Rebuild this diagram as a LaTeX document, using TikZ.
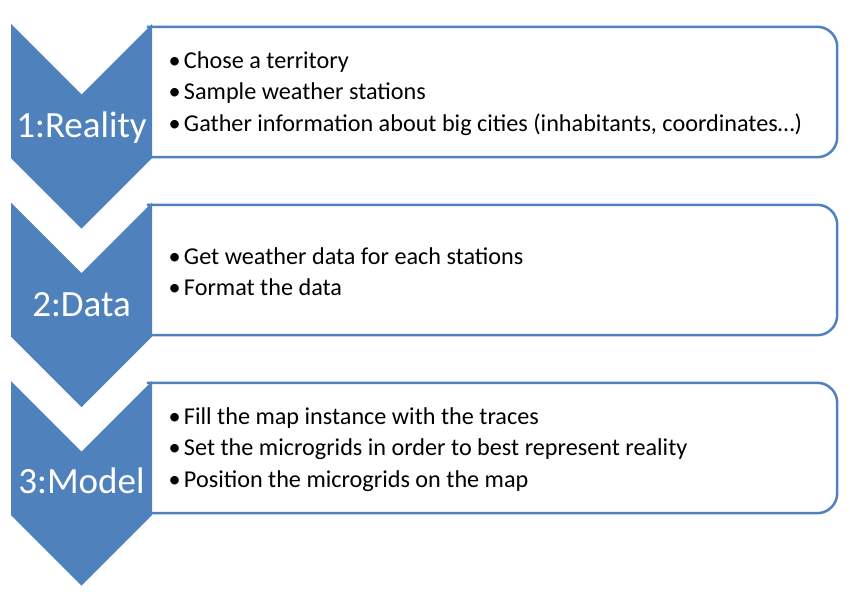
\documentclass[tikz,border=0pt]{standalone}
\usepackage{fontspec}
\setmainfont{Carlito}
\usetikzlibrary{positioning,calc}
\definecolor{stepBlue}{HTML}{4F81BD}

\begin{document}
\begin{tikzpicture}[x=1pt,y=-1pt,every text node part/.style={align=left}]
\tikzset{myFont/.style={font=\fontsize{24.2}{31.5}\selectfont}}
\tikzset{myBox/.style={draw=none,minimum width=690pt,minimum height=130pt,inner sep=0pt}}
\tikzset{myBorder/.style={draw=stepBlue,line width=2.5pt,rounded corners=20pt}}
\tikzset{myList/.style={myFont,anchor=west,inner sep=0pt,xshift=19pt,yshift=-1.5pt}}
\tikzset{myChevron/.style={fill=stepBlue}}
\tikzset{myLabel/.style={text=white,font=\fontsize{37}{40}\selectfont,anchor=base,inner sep=0pt}}
\newcommand{\itm}{\makebox[18pt][l]{\hspace{2.5pt}\textbullet}}

\useasboundingbox (0,0) rectangle (850,591);

% boxes behind the chevrons, open on the left
\node[myBox] (box1) at (492,92) {};
\node[myBox] (box2) at (492,270) {};
\node[myBox] (box3) at (492,448) {};
\draw[myBorder] (box1.north west) -- (box1.north east) -- (box1.south east) -- (box1.south west);
\draw[myBorder] (box2.north west) -- (box2.north east) -- (box2.south east) -- (box2.south west);
\draw[myBorder] (box3.north west) -- (box3.north east) -- (box3.south east) -- (box3.south west);

\node[myList] (list1) at (box1.west) {\itm Chose a territory\\\itm Sample weather stations\\\itm Gather information about big cities (inhabitants, coordinates…)};
\node[myList] (list2) at (box2.west) {\itm Get weather data for each stations\\\itm Format the data};
\node[myList] (list3) at (box3.west) {\itm Fill the map instance with the traces\\\itm Set the microgrids in order to best represent reality\\\itm Position the microgrids on the map};

% chevrons
\fill[myChevron] (11,24) -- (81.5,94.5) -- (152,24) -- (152,158) -- (81.5,228.5) -- (11,158) -- cycle;
\fill[myChevron] (11,202.5) -- (81.5,273) -- (152,202.5) -- (152,336.5) -- (81.5,407) -- (11,336.5) -- cycle;
\fill[myChevron] (11,381) -- (81.5,451.5) -- (152,381) -- (152,515) -- (81.5,585.5) -- (11,515) -- cycle;

\node[myLabel] (reality) at (81.5,137) {1:Reality};
\node[myLabel] (data) at (81.5,316) {2:Data};
\node[myLabel] (model) at (81.5,493) {3:Model};
\end{tikzpicture}
\end{document}
